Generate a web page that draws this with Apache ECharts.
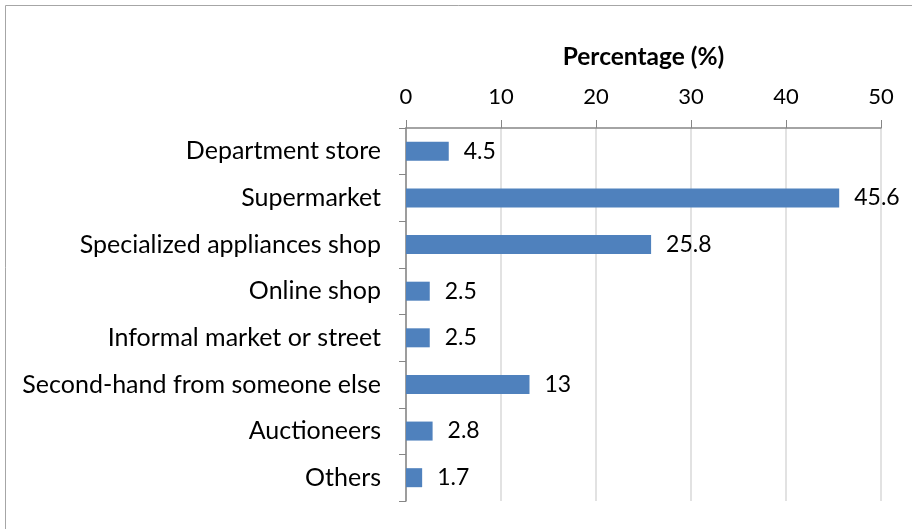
<!DOCTYPE html>
<html>
<head>
<meta charset="utf-8">
<style>
  html, body { margin: 0; padding: 0; background: #fff; }
  #chart { width: 912px; height: 529px; }
</style>
<script src="https://cdn.jsdelivr.net/npm/echarts@6/dist/echarts.min.js"></script>
</head>
<body>
<div id="chart"></div>
<script>
// Where the appliances were bought
const categories = [
  'Department store',
  'Supermarket',
  'Specialized appliances shop',
  'Online shop',
  'Informal market or street',
  'Second-hand from someone else',
  'Auctioneers',
  'Others'
];
const percentages = [4.5, 45.6, 25.8, 2.5, 2.5, 13, 2.8, 1.7];
const axisMax = 50;
const axisStep = 10;

const font = 'Lato, "Open Sans", sans-serif';
const chart = echarts.init(document.getElementById('chart'), null, { renderer: 'canvas' });

chart.setOption({
  animation: false,
  backgroundColor: '#ffffff',
  graphic: [
    { type: 'line', shape: { x1: 5.5, y1: 5.5, x2: 912, y2: 5.5 }, style: { stroke: '#a6a6a6', lineWidth: 1 } },
    { type: 'line', shape: { x1: 5.5, y1: 5.5, x2: 5.5, y2: 529 }, style: { stroke: '#a6a6a6', lineWidth: 1 } }
  ],
  grid: { left: 406, right: 31, top: 128, bottom: 28, containLabel: false },
  xAxis: {
    type: 'value',
    position: 'top',
    min: 0,
    max: axisMax,
    interval: axisStep,
    name: 'Percentage (%)',
    nameLocation: 'middle',
    nameGap: 58,
    nameTextStyle: { fontFamily: font, fontSize: 24.5, fontWeight: 'bold', color: '#000' },
    axisLine: { show: true, lineStyle: { color: '#868686', width: 1.5 } },
    axisTick: { show: true, inside: false, length: 8, lineStyle: { color: '#868686' } },
    axisLabel: { fontFamily: font, fontSize: 22, color: '#000', margin: 20 },
    splitLine: { show: true, lineStyle: { color: '#d9d9d9', width: 1.5 } }
  },
  yAxis: {
    type: 'category',
    data: categories,
    inverse: true,
    axisLine: { show: true, lineStyle: { color: '#868686', width: 1.5 } },
    axisTick: { show: true, alignWithLabel: false, length: 7, lineStyle: { color: '#868686' } },
    axisLabel: { fontFamily: font, fontSize: 25, color: '#000', margin: 25 }
  },
  series: [{
    type: 'bar',
    data: percentages,
    barWidth: 19,
    itemStyle: { color: '#4f81bd' },
    label: {
      show: true,
      position: 'right',
      distance: 15,
      fontFamily: font,
      fontSize: 23,
      color: '#000'
    }
  }]
});
</script>
</body>
</html>
